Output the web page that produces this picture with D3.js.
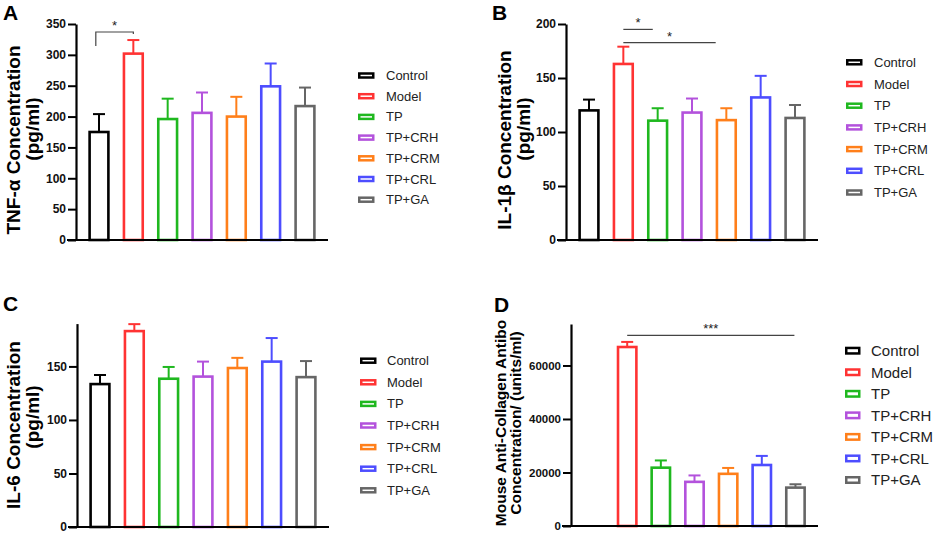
<!DOCTYPE html>
<html>
<head>
<meta charset="utf-8">
<script src="https://cdn.jsdelivr.net/npm/d3@7"></script>
<style>
  body { margin: 0; background: #fff; }
  svg { font-family: "Liberation Sans", Arial, sans-serif; }
</style>
</head>
<body>
<svg id="fig" width="934" height="534"></svg>
<script>
// groups + colours
const groups = ["Control", "Model", "TP", "TP+CRH", "TP+CRM", "TP+CRL", "TP+GA"];
const colors = ["#000000", "#ff3333", "#1fb81f", "#b352dc", "#ff7f1a", "#4d4dff", "#666666"];

// A: TNF-a
const tnfMean = [175, 302, 196, 206, 200, 249, 217];
const tnfSd = [29, 22, 33, 33, 32, 37, 30];
const tnfTicks = [0, 50, 100, 150, 200, 250, 300, 350];

// B: IL-1b
const il1bMean = [120, 163, 110.5, 118, 111, 132, 113];
const il1bSd = [10, 16, 11.5, 13, 11, 20, 12];
const il1bTicks = [0, 50, 100, 150, 200];

// C: IL-6
const il6Mean = [133.5, 183, 138.5, 140.5, 148.5, 154.5, 140];
const il6Sd = [8.5, 6.5, 11, 14, 9.5, 22, 15];
const il6Ticks = [0, 50, 100, 150];

// D: anti-collagen antibody (no control bar)
const abMean = [null, 66900, 21800, 16500, 19500, 22800, 14350];
const abSd = [null, 1900, 2700, 2400, 2200, 3400, 1250];
const abTicks = [0, 20000, 40000, 60000];

const svg = d3.select("#fig");

function panel(cfg) {
  const g = svg.append("g");
  const y = d3.scaleLinear().domain(cfg.domain).range([cfg.y0, cfg.y1]);
  const x = d3.scaleBand().domain(groups).range([cfg.x0, cfg.x1])
    .paddingInner(0.38).paddingOuter(0.36);
  const bw = x.bandwidth();

  const rows = groups.map((k, i) => ({k: k, m: cfg.mean[i], sd: cfg.sd[i], c: colors[i]}))
    .filter(d => d.m != null);

  // error bars (upper only)
  g.selectAll(".eb").data(rows).join("line")
    .attr("x1", d => x(d.k) + bw / 2).attr("x2", d => x(d.k) + bw / 2)
    .attr("y1", d => y(d.m)).attr("y2", d => y(d.m + d.sd))
    .attr("stroke", d => d.c).attr("stroke-width", 2);
  g.selectAll(".cap").data(rows).join("line")
    .attr("x1", d => x(d.k) + bw / 2 - 6).attr("x2", d => x(d.k) + bw / 2 + 6)
    .attr("y1", d => y(d.m + d.sd)).attr("y2", d => y(d.m + d.sd))
    .attr("stroke", d => d.c).attr("stroke-width", 2);

  g.selectAll("rect.bar").data(rows).join("rect")
    .attr("class", "bar")
    .attr("x", d => x(d.k) + 1.25)
    .attr("y", d => y(d.m))
    .attr("width", bw - 2.5)
    .attr("height", d => cfg.y0 - y(d.m))
    .attr("fill", "#fff")
    .attr("stroke", d => d.c)
    .attr("stroke-width", 2.6);

  // axes
  const ya = g.append("g").attr("transform", `translate(${cfg.x0},0)`)
    .call(d3.axisLeft(y).tickValues(cfg.ticks).tickFormat(d3.format("d"))
      .tickSize(8).tickPadding(2).tickSizeOuter(0));
  ya.select(".domain").attr("stroke-width", 2.2);
  ya.selectAll(".tick line").attr("stroke-width", 2);
  ya.selectAll(".tick text").attr("font-size", cfg.tickFs).attr("font-weight", "bold")
    .attr("fill", "#111").attr("font-family", "Liberation Sans, Arial");

  const xa = g.append("g").attr("transform", `translate(0,${cfg.y0})`)
    .call(d3.axisBottom(x).tickValues([]).tickSizeOuter(0));
  xa.select(".domain").attr("stroke-width", 2.2).attr("d", `M${cfg.x0 - 9},0H${cfg.x1}`);

  // y title
  const tx = g.append("text")
    .attr("transform", `translate(${cfg.tx},${cfg.ty}) rotate(-90)`)
    .attr("text-anchor", "middle")
    .attr("font-weight", "bold")
    .attr("font-size", cfg.tfs);
  cfg.title.forEach((t, i) => {
    tx.append("tspan").attr("x", i === 0 ? 0 : cfg.t2shift).attr("dy", i === 0 ? 0 : cfg.tlh).text(t);
  });

  // panel letter
  g.append("text").attr("x", cfg.lx).attr("y", cfg.ly)
    .attr("font-weight", "bold").attr("font-size", 21).text(cfg.letter);

  // significance marks
  (cfg.sig || []).forEach(s => {
    const xa1 = x(s.from) + bw * s.fromAt;
    const xa2 = x(s.to) + bw * s.toAt;
    const yy = y(s.at);
    let p = `M${xa1},${yy}H${xa2}`;
    if (s.legs) p = `M${xa1},${yy + s.legs[0]}V${yy}H${xa2}V${yy + s.legs[1]}`;
    g.append("path").attr("d", p).attr("fill", "none")
      .attr("stroke", "#444").attr("stroke-width", 1.2);
    g.append("text").attr("x", (xa1 + xa2) / 2).attr("y", yy - 2)
      .attr("text-anchor", "middle").attr("font-size", 13).attr("fill", "#222")
      .text(s.label);
  });

  // legend
  const lg = g.append("g").attr("transform", `translate(${cfg.legX},${cfg.legY})`);
  const items = lg.selectAll("g").data(groups).join("g")
    .attr("transform", (d, i) => `translate(0,${i * cfg.legStep})`);
  items.append("rect")
    .attr("x", 1.25).attr("y", -cfg.swH / 2)
    .attr("width", cfg.swW).attr("height", cfg.swH)
    .attr("fill", "#fff").attr("stroke", (d, i) => colors[i]).attr("stroke-width", 2.5);
  items.append("text")
    .attr("x", cfg.legTx).attr("dy", "0.35em")
    .attr("font-size", cfg.legFs).attr("fill", "#222")
    .text(d => d);
}

panel({
  letter: "A", lx: 3, ly: 20,
  mean: tnfMean, sd: tnfSd, ticks: tnfTicks, domain: [0, 350], tickFs: 12,
  x0: 76, x1: 328, y0: 240, y1: 24,
  title: ["TNF-\u03b1 Concentration", "(pg/ml)"], tx: 20, ty: 140, tfs: 19, tlh: 18.5, t2shift: 11,
  sig: [{from: "Control", fromAt: 0.35, to: "Model", toAt: 0.5, at: 337, legs: [14, 2], label: "*"}],
  legX: 358, legY: 75.5, legStep: 20.7, swW: 14, swH: 4, legTx: 28, legFs: 13
});

panel({
  letter: "B", lx: 492, ly: 20,
  mean: il1bMean, sd: il1bSd, ticks: il1bTicks, domain: [0, 200], tickFs: 12,
  x0: 566, x1: 818, y0: 240, y1: 24,
  title: ["IL-1\u03b2 Concentration", "(pg/ml)"], tx: 511, ty: 140, tfs: 19, tlh: 18.5, t2shift: 11,
  sig: [
    {from: "Model", fromAt: 0.5, to: "TP", toAt: 0.27, at: 195, label: "*"},
    {from: "Model", fromAt: 0.5, to: "TP+CRM", toAt: 0, at: 182.7, label: "*"}
  ],
  legX: 846, legY: 62.3, legStep: 21.7, swW: 14, swH: 4, legTx: 28, legFs: 13
});

panel({
  letter: "C", lx: 3, ly: 311,
  mean: il6Mean, sd: il6Sd, ticks: il6Ticks, domain: [0, 190], tickFs: 12,
  x0: 77, x1: 329, y0: 527, y1: 323.6,
  title: ["IL-6 Concentration", "(pg/ml)"], tx: 20, ty: 425, tfs: 19, tlh: 18.5, t2shift: 8,
  legX: 360, legY: 360.7, legStep: 21.6, swW: 14, swH: 4, legTx: 27, legFs: 13
});

panel({
  letter: "D", lx: 494, ly: 312,
  mean: abMean, sd: abSd, ticks: abTicks, domain: [0, 75500], tickFs: 11.5,
  x0: 571, x1: 818, y0: 526, y1: 324,
  title: ["Mouse Anti-Collagen Antibo", "Concentration/ (units/ml)"], tx: 506, ty: 423, tfs: 15.5, tlh: 15, t2shift: 0,
  sig: [{from: "Model", fromAt: 0.5, to: "TP+GA", toAt: 0.45, at: 71280, label: "***"}],
  legX: 845, legY: 350.7, legStep: 21.55, swW: 13, swH: 5.5, legTx: 26, legFs: 15
});
</script>
</body>
</html>
